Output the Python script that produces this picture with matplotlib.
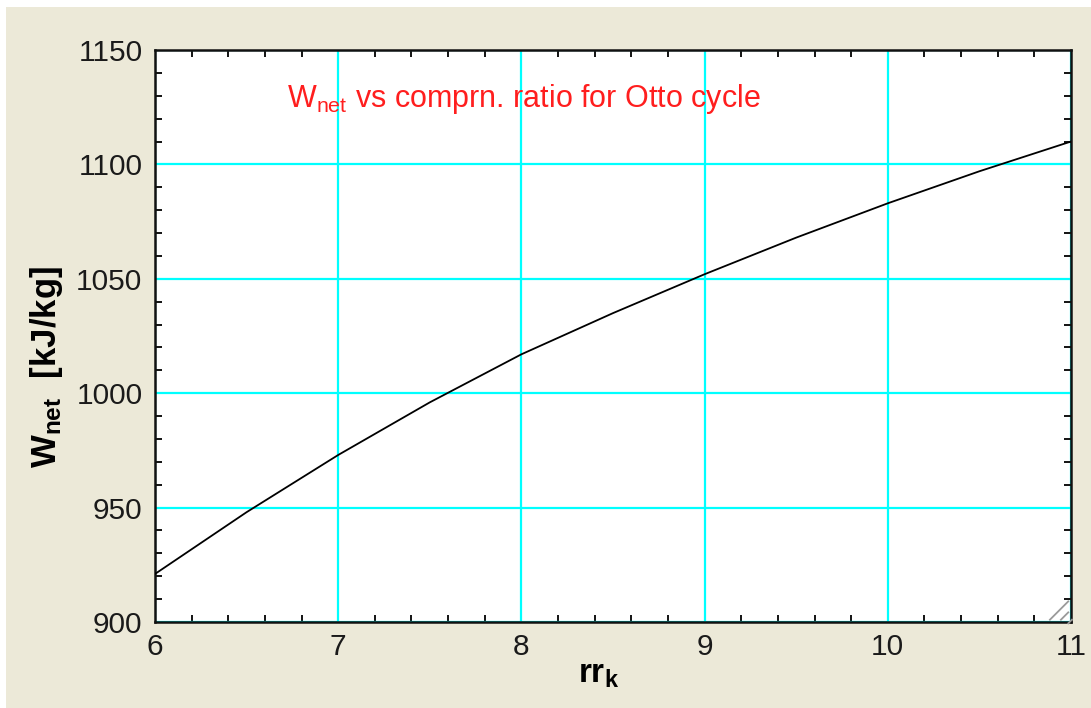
import matplotlib
matplotlib.use('Agg')
import matplotlib.pyplot as plt
import numpy as np
from matplotlib.ticker import MultipleLocator
from matplotlib.patches import Rectangle

plt.rcParams['font.family'] = ['Liberation Sans', 'DejaVu Sans']
plt.rcParams['mathtext.fontset'] = 'custom'
plt.rcParams['mathtext.rm'] = 'Liberation Sans'
plt.rcParams['mathtext.it'] = 'Liberation Sans'
plt.rcParams['mathtext.bf'] = 'Liberation Sans:bold'

# compression ratio and net work per kg
rr_k = [6.0, 6.5, 7.0, 7.5, 8.0, 8.5, 9.0, 9.5, 10.0, 10.5, 11.0]
w_net = [921, 948, 973, 996, 1017, 1035, 1052, 1068, 1083, 1097, 1110]

x_ticks = [6, 7, 8, 9, 10, 11]
y_ticks = [900, 950, 1000, 1050, 1100, 1150]

beige = '#ECE9D8'
fig = plt.figure(figsize=(10.91, 7.08), dpi=100, facecolor='white')
fig.patches.append(Rectangle((6 / 1091, 0), 1, 1 - 7 / 708, transform=fig.transFigure,
                             facecolor=beige, edgecolor='none', zorder=-10))

ax = fig.add_axes([155 / 1091, 86 / 708, 916 / 1091, 572 / 708])
ax.set_facecolor('white')

ax.plot(rr_k, w_net, color='black', lw=1.3, zorder=3)

ax.set_xlim(6, 11)
ax.set_ylim(900, 1150)
ax.set_xticks(x_ticks)
ax.set_yticks(y_ticks)
ax.xaxis.set_minor_locator(MultipleLocator(0.2))
ax.yaxis.set_minor_locator(MultipleLocator(10))
ax.grid(True, which='major', color='#00FFFF', lw=1.6, zorder=1)

ax.tick_params(which='major', length=0, labelsize=21.5, pad=9, colors='#1a1a1a')
ax.tick_params(which='minor', direction='in', length=5, width=1.3,
               top=True, right=True, color='black')
ax.tick_params(axis='x', which='major', pad=8)
for s in ax.spines.values():
    s.set_linewidth(1.8)
    s.set_color('#111111')

ax.set_xlabel(r'rr$_{\mathbf{k}}$', fontsize=24, fontweight='bold')
ax.xaxis.set_label_coords(0.484, -0.065)
ax.set_ylabel(r'W$_{\mathbf{net}}$  [kJ/kg]', fontsize=25, fontweight='bold')
ax.yaxis.set_label_coords(-0.098, 0.446)

ax.text(0.144, 0.915, r'W$_{\mathrm{net}}$ vs comprn. ratio for Otto cycle',
        transform=ax.transAxes, color='#FF1E1E', fontsize=22, ha='left', va='center')

# window resize grip in the corner
for off in [0.0, 0.012, 0.024]:
    ax.plot([0.977 + off, 0.997], [0.004, 0.004 + (0.997 - 0.977 - off) * 916 / 572],
            transform=ax.transAxes, color='#9A9A9A', lw=1.3, clip_on=False, zorder=4)

fig.savefig('out.png', dpi=100, facecolor=fig.get_facecolor())
